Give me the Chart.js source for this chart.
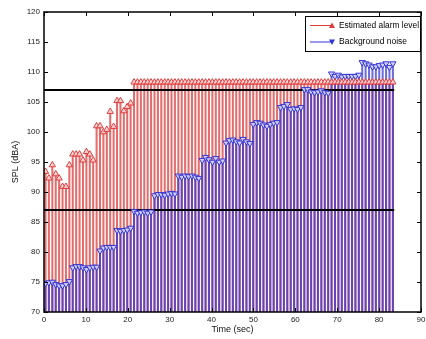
<!DOCTYPE html>
<html>
<head>
<meta charset="utf-8">
<script src="https://cdn.jsdelivr.net/npm/chart.js@4/dist/chart.umd.min.js"></script>
<style>
html,body{margin:0;padding:0;background:#fff;}
canvas{display:block;}
</style>
</head>
<body>
<canvas id="c" width="426" height="339"></canvas>
<script>
// sample times (sec)
const times = [
 0.36, 1.17, 1.99, 2.80, 3.61, 4.43, 5.24, 6.05, 6.86, 7.68,
 8.49, 9.30,10.12,10.93,11.74,12.56,13.37,14.18,14.99,15.81,
16.62,17.43,18.25,19.06,19.87,20.69,21.50,22.31,23.12,23.94,
24.75,25.56,26.38,27.19,28.00,28.82,29.63,30.44,31.25,32.07,
32.88,33.69,34.51,35.32,36.13,36.95,37.76,38.57,39.38,40.20,
41.01,41.82,42.64,43.45,44.26,45.08,45.89,46.70,47.51,48.33,
49.14,49.95,50.77,51.58,52.39,53.21,54.02,54.83,55.64,56.46,
57.27,58.08,58.90,59.71,60.52,61.34,62.15,62.96,63.77,64.59,
65.40,66.21,67.03,67.84,68.65,69.47,70.28,71.09,71.90,72.72,
73.53,74.34,75.16,75.97,76.78,77.60,78.41,79.22,80.03,80.85,
81.66,82.47,83.29
];
// Estimated alarm level (dBA)
const alarmLevel = [
 93.4, 92.3, 94.5, 93.0, 92.3, 90.9, 90.9, 94.5, 96.3, 96.3,
 96.3, 95.3, 96.7, 96.3, 95.3,101.0,101.0,100.0,100.4,103.4,
100.9,105.2,105.2,103.5,104.2,104.8,108.3,108.3,108.3,108.3,
108.3,108.3,108.3,108.3,108.3,108.3,108.3,108.3,108.3,108.3,
108.3,108.3,108.3,108.3,108.3,108.3,108.3,108.3,108.3,108.3,
108.3,108.3,108.3,108.3,108.3,108.3,108.3,108.3,108.3,108.3,
108.3,108.3,108.3,108.3,108.3,108.3,108.3,108.3,108.3,108.3,
108.3,108.3,108.3,108.3,108.3,108.3,108.3,108.3,108.3,108.3,
108.3,108.3,108.3,108.3,108.3,108.3,108.3,108.3,108.3,108.3,
108.3,108.3,108.3,108.3,108.3,108.3,108.3,108.3,108.3,108.3,
108.3,108.3,108.3
];
// Background noise (dBA)
const backgroundNoise = [
 74.8, 74.9, 75.0, 74.6, 74.4, 74.4, 74.6, 75.1,
 77.4, 77.6, 77.6, 77.4, 77.1, 77.4, 77.5, 77.5,
 80.2, 80.7, 80.8, 80.8, 80.8,
 83.6, 83.5, 83.6, 83.7, 84.0,
 86.8, 86.5, 86.6, 86.7, 86.5, 86.7,
 89.4, 89.6, 89.6, 89.5, 89.7, 89.8, 89.7,
 92.7, 92.5, 92.7, 92.6, 92.7, 92.5, 92.3,
 95.3, 95.8, 95.4, 95.0, 95.6, 95.0, 95.2,
 98.2, 98.6, 98.7, 98.4, 98.2, 98.8, 98.4, 98.1,
101.3,101.6,101.5,101.2,101.0,101.3,101.5,101.6,
104.1,104.3,104.6,103.8,103.9,103.8,104.1,
107.1,107.1,106.7,106.6,106.7,106.9,106.6,106.5,
109.7,109.3,109.5,109.2,109.3,109.3,109.3,109.3,109.5,
111.6,111.4,111.2,110.9,110.9,111.1,111.2,111.4,110.8,111.4
];
// Horizontal reference levels
const thresholdLevels = [87, 107];
const thresholdSpan = [0, 83.6];
const xTicks = [0,10,20,30,40,50,60,70,80,90];
const yTicks = [70,75,80,85,90,95,100,105,110,115,120];
const seriesNames = ['Estimated alarm level', 'Background noise'];

const RED = '#e03a3a', BLUE = '#3434d4';
const pts = arr => times.map((t,i)=>({x:t, y:arr[i]}));

const boxTicks = {
  id:'boxTicks',
  afterDatasetsDraw(chart){
    const {ctx, chartArea:a, scales:{x,y}} = chart;
    ctx.save();
    ctx.strokeStyle = '#000';
    ctx.lineWidth = 1;
    ctx.beginPath();
    yTicks.forEach(v=>{
      const py = Math.round(y.getPixelForValue(v))+0.5;
      ctx.moveTo(a.left, py); ctx.lineTo(a.left+4, py);
      ctx.moveTo(a.right, py); ctx.lineTo(a.right-4, py);
    });
    xTicks.forEach(v=>{
      const px = Math.round(x.getPixelForValue(v))+0.5;
      ctx.moveTo(px, a.bottom); ctx.lineTo(px, a.bottom-4);
      ctx.moveTo(px, a.top); ctx.lineTo(px, a.top+4);
    });
    ctx.stroke();
    ctx.lineWidth = 1.5;
    ctx.strokeRect(a.left, a.top, a.right-a.left, a.bottom-a.top);
    ctx.restore();
  }
};

const boxLegend = {
  id:'boxLegend',
  afterDraw(chart){
    const {ctx, chartArea:a} = chart;
    const x0 = a.right-116, y0 = a.top+4, w = 115, h = 35;
    ctx.save();
    ctx.fillStyle = '#fff';
    ctx.fillRect(x0, y0, w, h);
    ctx.strokeStyle = '#000';
    ctx.lineWidth = 1;
    ctx.strokeRect(x0+0.5, y0+0.5, w, h);
    const rows = [
      {y: y0+9.5, color: RED, down:false, text: seriesNames[0]},
      {y: y0+26, color: BLUE, down:true, text: seriesNames[1]}
    ];
    rows.forEach(r=>{
      ctx.strokeStyle = r.color; ctx.lineWidth = 1;
      ctx.beginPath(); ctx.moveTo(x0+5, r.y); ctx.lineTo(x0+27, r.y); ctx.stroke();
      ctx.fillStyle = r.color;
      ctx.beginPath();
      const cx = x0+27, s = 3;
      if(!r.down){ ctx.moveTo(cx-s, r.y+2.5); ctx.lineTo(cx+s, r.y+2.5); ctx.lineTo(cx, r.y-3); }
      else { ctx.moveTo(cx-s, r.y-2.5); ctx.lineTo(cx+s, r.y-2.5); ctx.lineTo(cx, r.y+3); }
      ctx.closePath(); ctx.fill();
      ctx.fillStyle = '#000';
      ctx.font = '8.5px "Liberation Sans", Arial, sans-serif';
      ctx.textBaseline = 'middle';
      const tw = ctx.measureText(r.text).width;
      const maxW = 80;
      ctx.save();
      ctx.translate(x0+34, r.y);
      if (tw > maxW) ctx.scale(maxW/tw, 1);
      ctx.fillText(r.text, 0, 0);
      ctx.restore();
    });
    ctx.restore();
  }
};

new Chart(document.getElementById('c'), {
  type:'bar',
  data:{
    datasets:[
      {type:'line', label: seriesNames[0]+' markers', data: pts(alarmLevel), showLine:false,
       pointStyle:'triangle', pointRadius:3.6, pointBorderColor:RED, pointBackgroundColor:'rgba(255,215,215,0.9)',
       pointBorderWidth:1, order:0},
      {type:'line', label: seriesNames[1]+' markers', data: pts(backgroundNoise), showLine:false,
       pointStyle:'triangle', pointRotation:180, pointRadius:3.6, pointBorderColor:BLUE, pointBackgroundColor:'rgba(215,215,255,0.9)',
       pointBorderWidth:1, order:0},
      ...thresholdLevels.map(v=>({type:'line', label:'level '+v,
        data: thresholdSpan.map(t=>({x:t, y:v})), borderColor:'#000', borderWidth:2, pointRadius:0, order:1})),
      {type:'bar', label: seriesNames[1], data: pts(backgroundNoise), backgroundColor:'rgba(52,52,212,0.72)',
       barThickness:1.4, grouped:false, order:2},
      {type:'bar', label: seriesNames[0], data: pts(alarmLevel), backgroundColor:'rgba(218,60,60,0.75)',
       barThickness:1.4, grouped:false, order:3}
    ]
  },
  options:{
    responsive:false, animation:false, devicePixelRatio:1,
    layout:{padding:{top:12, right:3, left:0, bottom:0}},
    plugins:{legend:{display:false}, tooltip:{enabled:false}},
    scales:{
      x:{type:'linear', min:0, max:90, offset:false,
        grid:{display:false, drawTicks:false, tickLength:0, offset:false}, border:{display:false},
        ticks:{stepSize:10, padding:3, color:'#222', font:{size:8, family:'"Liberation Sans", Arial, sans-serif'}, maxRotation:0, autoSkip:false},
        title:{display:true, text:'Time (sec)', color:'#111', padding:{top:0,bottom:4}, font:{size:9, family:'"Liberation Sans", Arial, sans-serif'}},
        afterFit(s){ s.height = 27; s.paddingLeft = 0; s.paddingRight = 0; }
      },
      y:{type:'linear', min:70, max:120,
        grid:{display:false, drawTicks:false, tickLength:0}, border:{display:false},
        ticks:{stepSize:5, padding:4, color:'#222', font:{size:8, family:'"Liberation Sans", Arial, sans-serif'}},
        title:{display:true, text:'SPL (dBA)', color:'#111', padding:{top:10,bottom:0}, font:{size:9, family:'"Liberation Sans", Arial, sans-serif'}},
        afterFit(s){ s.width = 44; s.paddingTop = 0; s.paddingBottom = 0; }
      }
    }
  },
  plugins:[boxTicks, boxLegend]
});
</script>
</body>
</html>
